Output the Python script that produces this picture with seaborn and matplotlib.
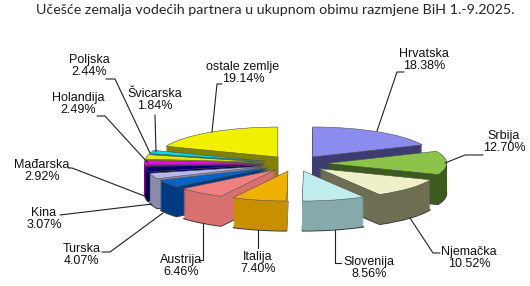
import matplotlib
matplotlib.use("Agg")
import matplotlib.pyplot as plt
import seaborn as sns
from matplotlib.lines import Line2D

sns.set_theme(style="white")
plt.rcParams['font.family'] = ['Liberation Sans', 'DejaVu Sans']

countries = ["Hrvatska", "Srbija", "Njemačka", "Slovenija", "Italija", "Austrija",
             "Turska", "Kina", "Mađarska", "Holandija", "Poljska", "Švicarska",
             "ostale zemlje"]
shares = [18.38, 12.70, 10.52, 8.56, 7.40, 6.46, 4.07, 3.07, 2.92, 2.49, 2.44, 1.84, 19.14]
pct_labels = ["18.38%", "12.70%", "10.52%", "8.56%", "7.40%", "6.46%", "4.07%",
              "3.07%", "2.92%", "2.49%", "2.44%", "1.84%", "19.14%"]

top_colors = ["#8C8CEE", "#8CC44A", "#F0F0C8", "#C0EEEE", "#F0B000", "#F08080",
              "#0064C8", "#B8B8E8", "#000070", "#F000F0", "#E8E800", "#00DCE6",
              "#F0F000"]
side_colors = ["#3C3C70", "#3A5A1E", "#6E6E52", "#86AAAA", "#C89000", "#D87070",
               "#003A80", "#8A8AAA", "#000048", "#900090", "#8A8A00", "#008A90",
               "#828200"]

W, H = 530, 286
cx, cy, R, RV = 295.5, 163.5, 120.0, 30.0
depth = 1.0  # in vertical radius units

fig = plt.figure(figsize=(W / 100, H / 100), dpi=100)
ax = fig.add_axes([0, 0, 1, 1])

explode = [0.26] * len(shares)
N = 40
# bottom outline first, then the body layers, then the top face
ax.pie(shares, explode=explode, startangle=90, counterclock=False,
       colors=side_colors, center=(0, -depth), radius=1,
       wedgeprops=dict(linewidth=0.8, edgecolor="#404040"), frame=True)
for j in range(N - 1, 0, -1):
    ax.pie(shares, explode=explode, startangle=90, counterclock=False,
           colors=side_colors, center=(0, -depth * j / N), radius=1,
           wedgeprops=dict(linewidth=0), frame=True)
ax.pie(shares, explode=explode, startangle=90, counterclock=False,
       colors=top_colors, center=(0, 0), radius=1,
       wedgeprops=dict(linewidth=0.4, edgecolor="#505050"), frame=True)

ax.set_aspect('auto')
ax.set_xlim(-cx / R, (W - cx) / R)
ax.set_ylim(-(H - cy) / RV, cy / RV)
ax.axis('off')

fig.text(275 / W, 1 - 10 / H,
         "Učešće zemalja vodećih partnera u ukupnom obimu razmjene BiH 1.-9.2025.",
         ha='center', va='center', fontsize=10.3, family=['Lato', 'DejaVu Sans'])

# label layout: text center (px), leader polyline (px)
label_pos = [(424, 60), (504, 142), (469, 258), (369, 268), (258, 263), (181, 266),
             (82, 255), (44, 219), (42, 171), (78, 104), (89, 66), (155, 100),
             (243, 73)]
leaders = [
    [(377, 131), (397, 72), (404, 72)],
    [(445, 163), (465, 155), (483, 155)],
    [(410, 218), (433, 253), (440, 253)],
    [(335, 230), (335, 263), (341, 263)],
    [(258, 230), (258, 248)],
    [(203, 223), (203, 260), (199, 260)],
    [(163, 213), (110, 252), (102, 252)],
    [(152, 204), (60, 215)],
    [(147, 197), (72, 168), (68, 168)],
    [(148, 163), (105, 116), (97, 116)],
    [(150, 153), (115, 79), (106, 79)],
    [(156, 152), (155, 115)],
    [(212, 132), (217, 84), (222, 84)],
]
for name, pct, (tx, ty), pts in zip(countries, pct_labels, label_pos, leaders):
    fig.text(tx / W, 1 - ty / H, f"{name}\n{pct}", ha='center', va='center',
             fontsize=9, linespacing=1.1, color="#101010")
    xs = [p[0] / W for p in pts]
    ys = [1 - p[1] / H for p in pts]
    fig.add_artist(Line2D(xs, ys, transform=fig.transFigure, color="#202020", lw=0.8))

fig.savefig("out.png", dpi=100, facecolor="white")
